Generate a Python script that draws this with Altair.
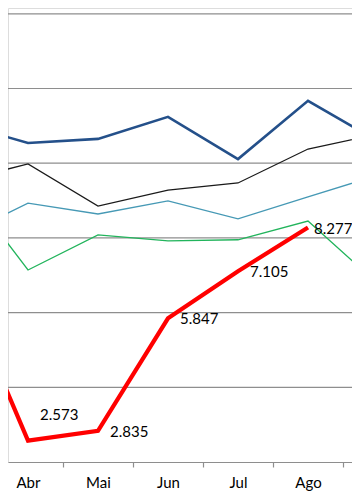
import json
import altair as alt
import pandas as pd

# Categories (month index 1 = Jan)
meses = ["Jan", "Fev", "Mar", "Abr", "Mai", "Jun", "Jul", "Ago", "Set", "Out", "Nov", "Dez"]
posicoes = [3, 4, 5, 6, 7, 8, 9]          # Mar .. Set

# Series values
serie_azul = [11080, 10540, 10650, 11240, 10110, 11670, 10590]
serie_preta = [9510, 9980, 8850, 9280, 9470, 10380, 10780]
serie_ciano = [8000, 8930, 8640, 8990, 8510, 9100, 9680]
serie_verde = [9620, 7140, 8080, 7920, 7950, 8450, 6770]
serie_vermelha = [6980, 2573, 2835, 5847, 7105, 8277, None]

# Horizontal gridline values
grade = [4000, 6000, 8000, 10000, 12000, 14000]

nomes = ["Série 1", "Série 2", "Série 3", "Série 4", "Série 5"]
cores = ["#24508A", "#1A1A1A", "#4699B5", "#22B45C", "#FF0000"]
larguras = [2.6, 1.3, 1.4, 1.3, 4.2]

rows = []
for nome, vals in zip(nomes, [serie_azul, serie_preta, serie_ciano, serie_verde, serie_vermelha]):
    for p, v in zip(posicoes, vals):
        if v is not None:
            rows.append({"serie": nome, "pos": p, "mes": meses[p - 1], "valor": v})
df = pd.DataFrame(rows)
df_grade = pd.DataFrame({"valor": grade})

x_scale = alt.Scale(domain=[3.7143, 8.6286], nice=False, zero=False)
y_scale = alt.Scale(domain=[2000, 14155], nice=False, zero=False)

label_expr = json.dumps(meses) + "[datum.value - 1]"

x_axis = alt.Axis(values=[4, 5, 6, 7, 8], labelExpr=label_expr, tickOffset=35, labelOffset=-35,
                  grid=False, domainColor="#8E8E8E", domainWidth=1.2, tickColor="#8E8E8E",
                  tickWidth=1.2, tickSize=5, labelPadding=8, labelFont="Lato", labelFontSize=15,
                  labelColor="#000000", title=None)

X = alt.X("pos:Q", scale=x_scale, axis=x_axis)
Y = alt.Y("valor:Q", scale=y_scale, axis=None)

grid = alt.Chart(df_grade).mark_rule(color="#8E8E8E", strokeWidth=1.2).encode(y=Y)

layers = [grid]
for nome, cor, lw in zip(nomes, cores, larguras):
    layers.append(
        alt.Chart(df).transform_filter(alt.datum.serie == nome).mark_line(
            clip=True, color=cor, strokeWidth=lw
        ).encode(x=X, y=Y)
    )

red = alt.Chart(df).transform_filter("datum.serie == 'Série 5' && datum.pos >= 4").transform_calculate(
    rotulo="replace(format(datum.valor, ','), ',', '.')"
)

labels_main = red.transform_filter("datum.pos != 4 && datum.pos != 8").mark_text(
    align="left", baseline="middle", dx=12, dy=1, font="Lato", fontSize=15, color="#000000"
).encode(x=X, y=Y, text="rotulo:N")

labels_ago = red.transform_filter("datum.pos == 8").mark_text(
    align="left", baseline="middle", dx=6, dy=1, font="Lato", fontSize=15, color="#000000"
).encode(x=X, y=Y, text="rotulo:N")

labels_abr = red.transform_filter("datum.pos == 4").mark_text(
    align="left", baseline="middle", dx=12, dy=-26, font="Lato", fontSize=15, color="#000000"
).encode(x=X, y=Y, text="rotulo:N")

chart = alt.layer(*layers, labels_main, labels_ago, labels_abr).properties(
    width=344, height=454,
    autosize=alt.AutoSizeParams(type="none"),
    padding={"left": 0, "top": 0, "right": 0, "bottom": 34},
).configure_view(strokeWidth=0).configure(background="#FFFFFF")

chart.save("out.html", embed_options={"renderer": "svg", "actions": False})
